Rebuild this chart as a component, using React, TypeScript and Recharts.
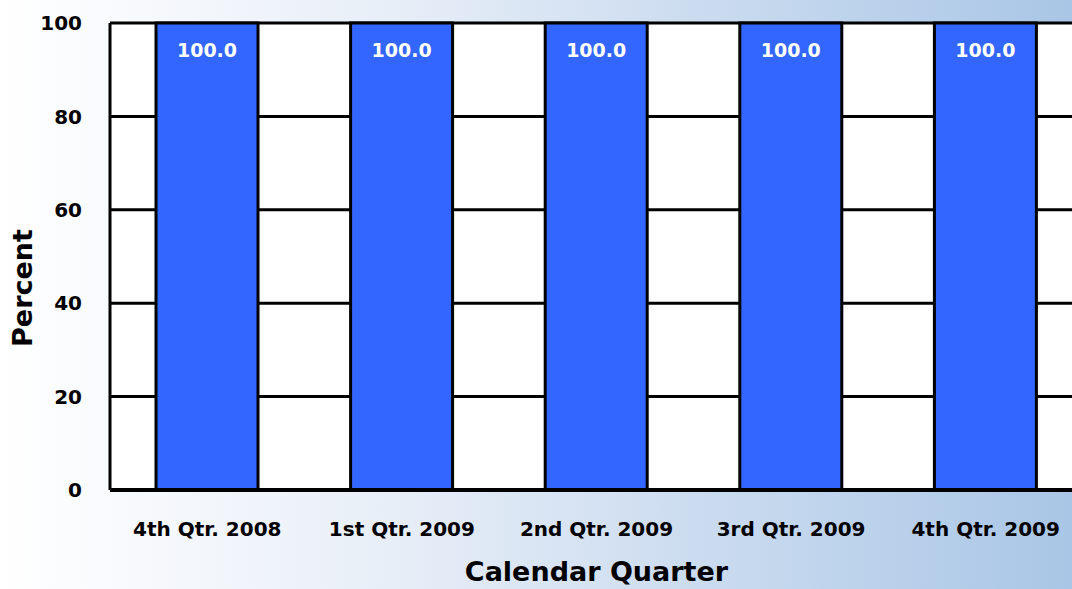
import React from 'react';
import { BarChart, Bar, XAxis, YAxis, CartesianGrid, LabelList } from 'recharts';

const quarters = ['4th Qtr. 2008', '1st Qtr. 2009', '2nd Qtr. 2009', '3rd Qtr. 2009', '4th Qtr. 2009'];
const percents = [100.0, 100.0, 100.0, 100.0, 100.0];
const yTicks = [0, 20, 40, 60, 80, 100];

const FONT = '"DejaVu Sans", sans-serif';

const data = quarters.map((q, i) => ({ quarter: q, value: percents[i] }));

// y-axis title sits a bit below the plot's middle in the original
const PercentTitle = () => (
  <text
    x={22}
    y={288}
    transform="rotate(-90, 22, 288)"
    textAnchor="middle"
    dominantBaseline="central"
    fill="#000"
    fontSize={27}
    fontWeight="bold"
    fontFamily={FONT}
  >
    Percent
  </text>
);

export default function App() {
  return (
    <div
      style={{
        position: 'absolute',
        left: 0,
        top: 0,
        width: 1072,
        height: 589,
        overflow: 'hidden',
        background: 'linear-gradient(to right, #ffffff 0%, #e9eff8 35%, #a9c6e6 100%)',
      }}
    >
      <BarChart
        width={1090}
        height={589}
        data={data}
        margin={{ top: 23, right: 7, left: 0, bottom: 0 }}
        barSize={102}
      >
        <CartesianGrid vertical={false} fill="#ffffff" stroke="#000" strokeWidth={3} />
        <XAxis
          dataKey="quarter"
          height={99}
          axisLine={{ stroke: '#000', strokeWidth: 4 }}
          tickLine={false}
          tick={{ fill: '#000', fontSize: 20, fontWeight: 'bold', fontFamily: FONT }}
          tickMargin={26}
          label={{
            value: 'Calendar Quarter',
            position: 'insideBottom',
            offset: 8,
            fill: '#000',
            fontSize: 27,
            fontWeight: 'bold',
            fontFamily: FONT,
          }}
        />
        <YAxis
          width={110}
          domain={[0, 100]}
          ticks={yTicks}
          interval={0}
          axisLine={{ stroke: '#000', strokeWidth: 3 }}
          tickLine={false}
          tickMargin={22}
          tick={{ fill: '#000', fontSize: 20, fontWeight: 'bold', fontFamily: FONT }}
          label={<PercentTitle />}
        />
        <Bar dataKey="value" fill="#3366ff" stroke="#000" strokeWidth={3} isAnimationActive={false}>
          <LabelList
            dataKey="value"
            position="insideTop"
            offset={21}
            formatter={(v: number) => v.toFixed(1)}
            fill="#ffffff"
            fontSize={19}
            fontWeight="bold"
            fontFamily={FONT}
          />
        </Bar>
      </BarChart>
    </div>
  );
}
